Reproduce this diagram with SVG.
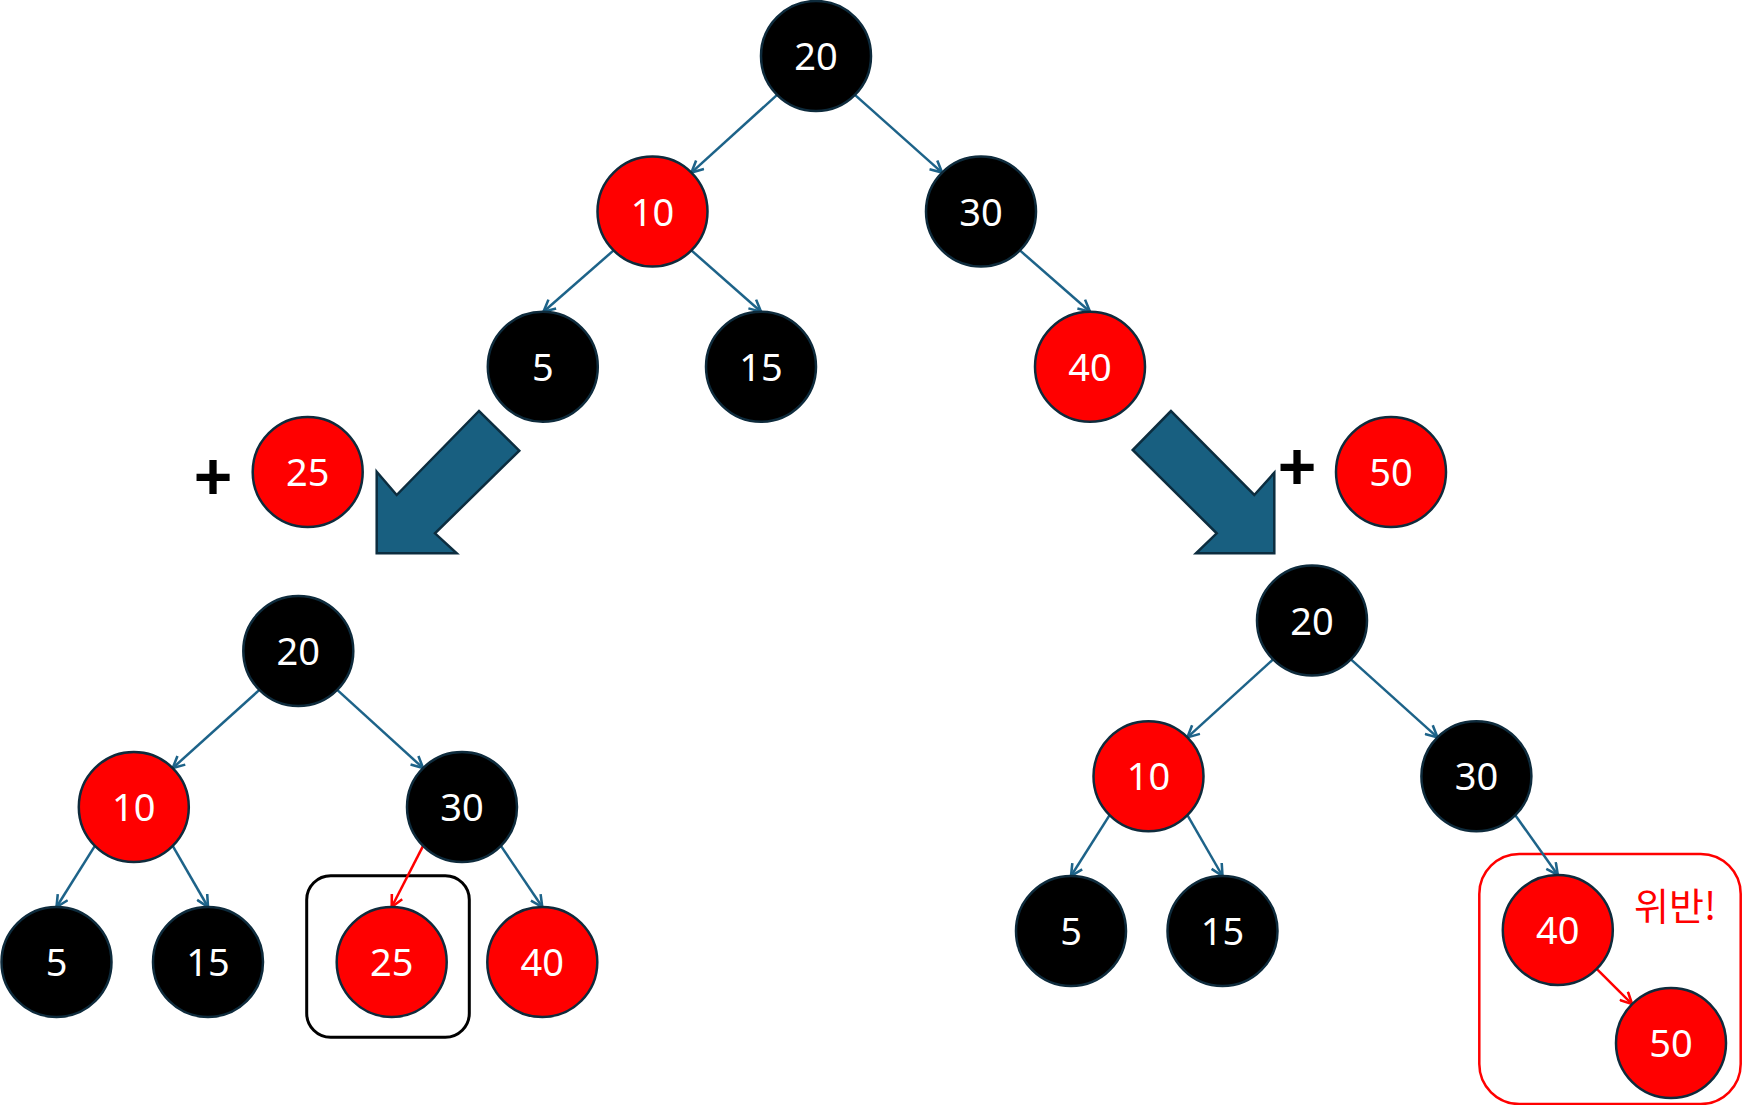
<svg xmlns="http://www.w3.org/2000/svg" width="1743" height="1105" viewBox="0 0 1743 1105">
<style>
.n circle{stroke:#0e2b3c;stroke-width:2.5}
.blk circle{fill:#000}
.red circle{fill:#ff0000}
.n text{fill:#fff;font-family:"Noto Sans","Open Sans",sans-serif;font-size:38px;text-anchor:middle}
.e{stroke:#1d6389;stroke-width:2.5;fill:none;marker-end:url(#ah)}
.er{stroke:#ff0000;stroke-width:2.5;fill:none;marker-end:url(#ahr)}
.big{fill:#185f80;stroke:#0c2d3f;stroke-width:2.5;stroke-linejoin:miter}
.plus{font-family:"Liberation Sans",Arial,sans-serif;font-weight:bold;font-size:66px;text-anchor:middle;fill:#000}
</style>
<defs>
<marker id="ah" viewBox="0 0 12 12" refX="11" refY="6" markerWidth="14" markerHeight="14" markerUnits="userSpaceOnUse" orient="auto">
<path d="M1,1 L11,6 L1,11" fill="none" stroke="#1d6389" stroke-width="2.2"/>
</marker>
<marker id="ahr" viewBox="0 0 12 12" refX="11" refY="6" markerWidth="14" markerHeight="14" markerUnits="userSpaceOnUse" orient="auto">
<path d="M1,1 L11,6 L1,11" fill="none" stroke="#ff0000" stroke-width="2.2"/>
</marker>
</defs>
<rect width="1743" height="1105" fill="#fff"/>

<g id="highlight-boxes">
<rect x="306.7" y="875.7" width="162.6" height="161.6" rx="24" fill="none" stroke="#000" stroke-width="3"/>
<rect x="1479.3" y="854" width="261.4" height="250" rx="40" fill="none" stroke="#ff0000" stroke-width="2.5"/>
<text x="1634" y="920" font-family="'Noto Sans CJK KR',sans-serif" font-size="38" fill="#ff0000">위반!</text>
</g>

<g id="connectors">
<line class="e" x1="777.1" y1="94.9" x2="691.4" y2="172.6"/>
<line class="e" x1="854.9" y1="94.9" x2="942.1" y2="172.6"/>
<line class="e" x1="613.6" y1="250.4" x2="543.5" y2="311.7"/>
<line class="e" x1="691.4" y1="250.4" x2="761" y2="311.7"/>
<line class="e" x1="1019.9" y1="250.4" x2="1090" y2="311.7"/>
<line class="e" x1="259.4" y1="689.9" x2="172.7" y2="768.1"/>
<line class="e" x1="337.2" y1="689.9" x2="423.1" y2="768.1"/>
<line class="e" x1="94.9" y1="845.9" x2="56.5" y2="907"/>
<line class="e" x1="172.7" y1="845.9" x2="208" y2="907"/>
<line class="er" x1="423.1" y1="845.9" x2="391.7" y2="907"/>
<line class="e" x1="500.9" y1="845.9" x2="542.3" y2="907"/>
<line class="e" x1="1273.1" y1="659.4" x2="1187.4" y2="737.4"/>
<line class="e" x1="1350.9" y1="659.4" x2="1437.5" y2="737.4"/>
<line class="e" x1="1109.6" y1="815.2" x2="1071" y2="876"/>
<line class="e" x1="1187.4" y1="815.2" x2="1222.5" y2="876"/>
<line class="e" x1="1515.3" y1="815.2" x2="1557.8" y2="875"/>
<line class="er" x1="1596.7" y1="968.9" x2="1632.1" y2="1004.1"/>
</g>

<g id="big-arrows">
<polygon class="big" points="376.7,471.7 396.7,495 479,411 519.3,450.7 435,533.3 456.7,553.3 376.7,553.3"/>
<polygon class="big" points="1171,411 1132.7,450 1216.7,533.3 1196,553.3 1274.3,553.3 1274.3,472.7 1254.3,495"/>
<text class="plus" x="213" y="499">+</text>
<text class="plus" x="1297" y="489">+</text>
</g>

<g id="top-20" class="n blk"><circle cx="816" cy="56" r="55"/><text x="816" y="70">20</text></g>
<g id="top-10" class="n red"><circle cx="652.5" cy="211.5" r="55"/><text x="652.5" y="225.5">10</text></g>
<g id="top-30" class="n blk"><circle cx="981" cy="211.5" r="55"/><text x="981" y="225.5">30</text></g>
<g id="top-5" class="n blk"><circle cx="542.8" cy="366.7" r="55"/><text x="542.8" y="380.7">5</text></g>
<g id="top-15" class="n blk"><circle cx="761" cy="366.7" r="55"/><text x="761" y="380.7">15</text></g>
<g id="top-40" class="n red"><circle cx="1090" cy="366.7" r="55"/><text x="1090" y="380.7">40</text></g>

<g id="add-25" class="n red"><circle cx="307.7" cy="472" r="55"/><text x="307.7" y="486">25</text></g>
<g id="add-50" class="n red"><circle cx="1391" cy="472" r="55"/><text x="1391" y="486">50</text></g>

<g id="left-20" class="n blk"><circle cx="298.3" cy="651" r="55"/><text x="298.3" y="665">20</text></g>
<g id="left-10" class="n red"><circle cx="133.8" cy="807" r="55"/><text x="133.8" y="821">10</text></g>
<g id="left-30" class="n blk"><circle cx="462" cy="807" r="55"/><text x="462" y="821">30</text></g>
<g id="left-5" class="n blk"><circle cx="56.5" cy="962" r="55"/><text x="56.5" y="976">5</text></g>
<g id="left-15" class="n blk"><circle cx="208" cy="962" r="55"/><text x="208" y="976">15</text></g>
<g id="left-25" class="n red"><circle cx="391.7" cy="962" r="55"/><text x="391.7" y="976">25</text></g>
<g id="left-40" class="n red"><circle cx="542.3" cy="962" r="55"/><text x="542.3" y="976">40</text></g>

<g id="right-20" class="n blk"><circle cx="1312" cy="620.5" r="55"/><text x="1312" y="634.5">20</text></g>
<g id="right-10" class="n red"><circle cx="1148.5" cy="776.3" r="55"/><text x="1148.5" y="790.3">10</text></g>
<g id="right-30" class="n blk"><circle cx="1476.4" cy="776.3" r="55"/><text x="1476.4" y="790.3">30</text></g>
<g id="right-5" class="n blk"><circle cx="1071" cy="931" r="55"/><text x="1071" y="945">5</text></g>
<g id="right-15" class="n blk"><circle cx="1222.5" cy="931" r="55"/><text x="1222.5" y="945">15</text></g>
<g id="right-40" class="n red"><circle cx="1557.8" cy="930" r="55"/><text x="1557.8" y="944">40</text></g>
<g id="right-50" class="n red"><circle cx="1671" cy="1043" r="55"/><text x="1671" y="1057">50</text></g>
</svg>
